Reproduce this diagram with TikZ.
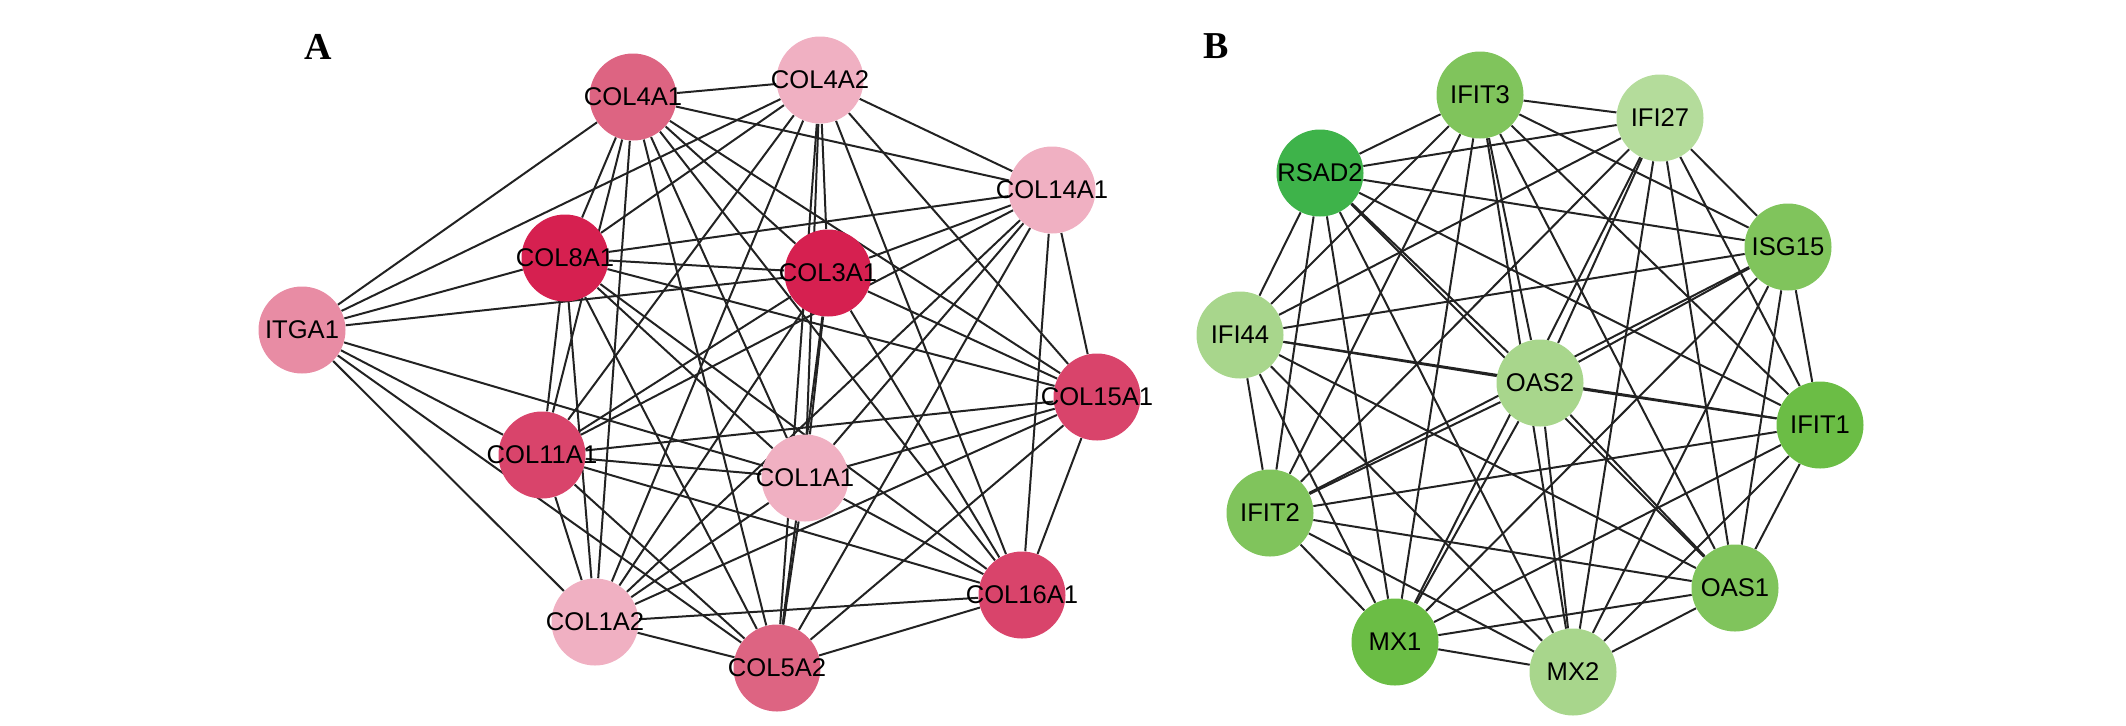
\documentclass[tikz,border=0pt]{standalone}
\usepackage{fontspec}
\setmainfont{Liberation Serif}
\setsansfont{Liberation Sans}
\usetikzlibrary{backgrounds}
\definecolor{deep}{RGB}{214, 32, 80}
\definecolor{mid}{RGB}{217, 68, 107}
\definecolor{soft}{RGB}{221, 100, 130}
\definecolor{pale}{RGB}{232, 140, 164}
\definecolor{light}{RGB}{240, 176, 194}
\definecolor{gdark}{RGB}{62, 179, 74}
\definecolor{gmid}{RGB}{107, 189, 69}
\definecolor{gsoft}{RGB}{128, 196, 92}
\definecolor{gpale}{RGB}{168, 214, 140}
\definecolor{glight}{RGB}{180, 220, 155}
\definecolor{edge}{RGB}{34, 34, 34}

\begin{document}
\begin{tikzpicture}[x=0.5pt, y=-0.5pt,
  gene/.style={circle, inner sep=0pt, minimum size=43.5pt,
    font=\sffamily\fontsize{12.8}{14}\selectfont},
  link/.style={draw=edge, line width=1pt},
  panel/.style={font=\bfseries\fontsize{19}{22}\selectfont}]
  \useasboundingbox (0, 0) rectangle (2126, 725);

  \node[panel] (A) at (318, 47) {A};
  \node[panel] (B) at (1216, 46) {B};

  % collagen network
  \node[gene, fill=soft] (COL4A1) at (633, 97) {\makebox[0pt]{COL4A1}};
  \node[gene, fill=light] (COL4A2) at (820, 80) {\makebox[0pt]{COL4A2}};
  \node[gene, fill=light] (COL14A1) at (1052, 190) {\makebox[0pt]{COL14A1}};
  \node[gene, fill=deep] (COL8A1) at (565, 258) {\makebox[0pt]{COL8A1}};
  \node[gene, fill=deep] (COL3A1) at (828, 273) {\makebox[0pt]{COL3A1}};
  \node[gene, fill=pale] (ITGA1) at (302, 330) {\makebox[0pt]{ITGA1}};
  \node[gene, fill=mid] (COL15A1) at (1097, 397) {\makebox[0pt]{COL15A1}};
  \node[gene, fill=mid] (COL11A1) at (542, 455) {\makebox[0pt]{COL11A1}};
  \node[gene, fill=light] (COL1A1) at (805, 478) {\makebox[0pt]{COL1A1}};
  \node[gene, fill=light] (COL1A2) at (595, 622) {\makebox[0pt]{COL1A2}};
  \node[gene, fill=soft] (COL5A2) at (777, 668) {\makebox[0pt]{COL5A2}};
  \node[gene, fill=mid] (COL16A1) at (1022, 595) {\makebox[0pt]{COL16A1}};

  % interferon network
  \node[gene, fill=gsoft] (IFIT3) at (1480, 95) {\makebox[0pt]{IFIT3}};
  \node[gene, fill=glight] (IFI27) at (1660, 118) {\makebox[0pt]{IFI27}};
  \node[gene, fill=gdark] (RSAD2) at (1320, 173) {\makebox[0pt]{RSAD2}};
  \node[gene, fill=gsoft] (ISG15) at (1788, 247) {\makebox[0pt]{ISG15}};
  \node[gene, fill=gpale] (IFI44) at (1240, 335) {\makebox[0pt]{IFI44}};
  \node[gene, fill=gpale] (OAS2) at (1540, 383) {\makebox[0pt]{OAS2}};
  \node[gene, fill=gmid] (IFIT1) at (1820, 425) {\makebox[0pt]{IFIT1}};
  \node[gene, fill=gsoft] (IFIT2) at (1270, 513) {\makebox[0pt]{IFIT2}};
  \node[gene, fill=gsoft] (OAS1) at (1735, 588) {\makebox[0pt]{OAS1}};
  \node[gene, fill=gmid] (MX1) at (1395, 642) {\makebox[0pt]{MX1}};
  \node[gene, fill=gpale] (MX2) at (1573, 672) {\makebox[0pt]{MX2}};

  \begin{pgfonlayer}{background}
    \foreach \a [count=\i] in {COL4A1, COL4A2, COL14A1, COL8A1, COL3A1,
        COL15A1, COL11A1, COL1A1, COL1A2, COL5A2, COL16A1} {
      \foreach \b [count=\j] in {COL4A1, COL4A2, COL14A1, COL8A1, COL3A1,
          COL15A1, COL11A1, COL1A1, COL1A2, COL5A2, COL16A1} {
        \ifnum\i<\j \draw[link] (\a) -- (\b); \fi
      }
    }
    \foreach \b in {COL4A1, COL4A2, COL8A1, COL3A1, COL11A1, COL1A1,
        COL1A2, COL5A2}
      \draw[link] (ITGA1) -- (\b);

    \foreach \a [count=\i] in {IFIT3, IFI27, RSAD2, ISG15, IFI44, OAS2,
        IFIT1, IFIT2, OAS1, MX1, MX2} {
      \foreach \b [count=\j] in {IFIT3, IFI27, RSAD2, ISG15, IFI44, OAS2,
          IFIT1, IFIT2, OAS1, MX1, MX2} {
        \ifnum\i<\j \draw[link] (\a) -- (\b); \fi
      }
    }
  \end{pgfonlayer}
\end{tikzpicture}
\end{document}
